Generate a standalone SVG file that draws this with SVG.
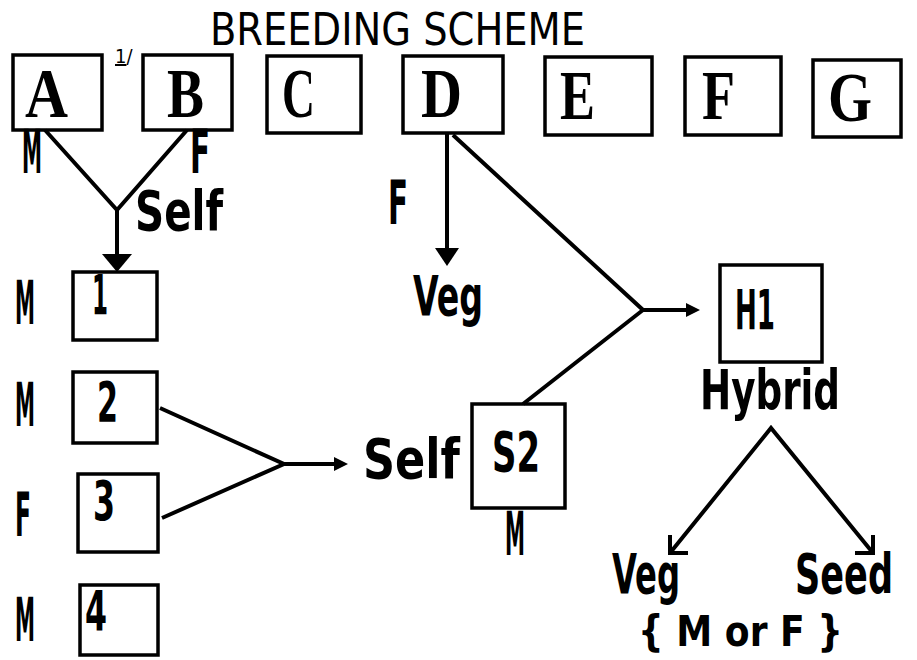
<svg xmlns="http://www.w3.org/2000/svg" width="917" height="660" viewBox="0 0 917 660">
<defs>
<style>
.bx{fill:none;stroke:#000;stroke-width:3.5}
.big{font-family:"Liberation Serif","Times New Roman",serif;font-weight:bold;font-size:70px;fill:#000}
.t{font-family:"DejaVu Sans Condensed","DejaVu Sans","Liberation Sans",sans-serif;font-weight:bold;font-size:56px;fill:#000}
.m{font-size:60px}
.ln{fill:none;stroke:#000;stroke-width:4;stroke-linejoin:miter}
.ah{fill:#000;stroke:none}
</style>
</defs>
<rect width="917" height="660" fill="#fff"/>
<text class="t" x="210" y="45" style="font-size:45px;font-weight:normal" textLength="375" lengthAdjust="spacingAndGlyphs">BREEDING SCHEME</text>
<text class="t" x="115" y="63" style="font-size:20px;font-weight:normal"><tspan text-decoration="underline">1</tspan>/</text>

<g id="A"><rect class="bx" x="13" y="55" width="89" height="75"/><text class="big" x="25" y="117" textLength="43" lengthAdjust="spacingAndGlyphs">A</text><text class="t m" x="22" y="173" textLength="20" lengthAdjust="spacingAndGlyphs">M</text></g>
<g id="B"><rect class="bx" x="143" y="55" width="89" height="75"/><text class="big" x="167" y="117" textLength="37" lengthAdjust="spacingAndGlyphs">B</text><text class="t m" x="190" y="173" textLength="20" lengthAdjust="spacingAndGlyphs">F</text></g>
<g id="C"><rect class="bx" x="267" y="56" width="94" height="77"/><text class="big" x="282" y="117" textLength="33" lengthAdjust="spacingAndGlyphs">C</text></g>
<g id="D"><rect class="bx" x="403" y="56" width="100" height="77"/><text class="big" x="421" y="117" textLength="41" lengthAdjust="spacingAndGlyphs">D</text></g>
<g id="E"><rect class="bx" x="545" y="57" width="107" height="78"/><text class="big" x="560" y="119" textLength="35" lengthAdjust="spacingAndGlyphs">E</text></g>
<g id="F"><rect class="bx" x="685" y="57" width="96" height="78"/><text class="big" x="702" y="119" textLength="33" lengthAdjust="spacingAndGlyphs">F</text></g>
<g id="G"><rect class="bx" x="813" y="60" width="88" height="77"/><text class="big" x="828" y="121" textLength="44" lengthAdjust="spacingAndGlyphs">G</text></g>

<g id="n1"><rect class="bx" x="73" y="272" width="84" height="68"/><text class="t" x="92" y="314" textLength="16" lengthAdjust="spacingAndGlyphs">1</text><text class="t m" x="15" y="324" textLength="20" lengthAdjust="spacingAndGlyphs">M</text></g>
<g id="n2"><rect class="bx" x="73" y="372" width="84" height="71"/><text class="t" x="97" y="421" textLength="21" lengthAdjust="spacingAndGlyphs">2</text><text class="t m" x="15" y="426" textLength="20" lengthAdjust="spacingAndGlyphs">M</text></g>
<g id="n3"><rect class="bx" x="78" y="474" width="80" height="78"/><text class="t" x="93" y="520" textLength="22" lengthAdjust="spacingAndGlyphs">3</text><text class="t m" x="15" y="536" textLength="16" lengthAdjust="spacingAndGlyphs">F</text></g>
<g id="n4"><rect class="bx" x="80" y="585" width="78" height="70"/><text class="t" x="85" y="630" textLength="22" lengthAdjust="spacingAndGlyphs">4</text><text class="t m" x="15" y="641" textLength="20" lengthAdjust="spacingAndGlyphs">M</text></g>

<g id="S2"><rect class="bx" x="472" y="404" width="93" height="104"/><text class="t" x="492" y="471" textLength="48" lengthAdjust="spacingAndGlyphs">S2</text><text class="t m" x="505" y="555" textLength="20" lengthAdjust="spacingAndGlyphs">M</text></g>
<g id="H1"><rect class="bx" x="720" y="265" width="102" height="97"/><text class="t" x="735" y="329" textLength="40" lengthAdjust="spacingAndGlyphs">H1</text><text class="t" x="700" y="409" textLength="140" lengthAdjust="spacingAndGlyphs">Hybrid</text></g>

<g id="labels">
<text class="t" x="135" y="230" textLength="88" lengthAdjust="spacingAndGlyphs">Self</text>
<text class="t m" x="388" y="224" textLength="20" lengthAdjust="spacingAndGlyphs">F</text>
<text class="t" x="413" y="315" textLength="70" lengthAdjust="spacingAndGlyphs">Veg</text>
<text class="t" x="363" y="478" textLength="97" lengthAdjust="spacingAndGlyphs">Self</text>
<text class="t" x="612" y="593" textLength="68" lengthAdjust="spacingAndGlyphs">Veg</text>
<text class="t" x="795" y="593" textLength="98" lengthAdjust="spacingAndGlyphs">Seed</text>
<text class="t" x="638" y="646" style="font-size:42px" textLength="205" lengthAdjust="spacingAndGlyphs">{ M or F }</text>
</g>

<g id="connectors">
<polyline class="ln" points="45,130 117,210 187,130"/>
<line class="ln" x1="117" y1="210" x2="117" y2="258"/>
<polygon class="ah" points="102,254 132,254 117,272"/>
<polyline class="ln" points="160,408 284,464 162,518"/>
<line class="ln" x1="284" y1="464" x2="336" y2="464"/>
<polygon class="ah" points="334,457 348,464 334,471"/>
<line class="ln" x1="447" y1="133" x2="447" y2="252"/>
<polygon class="ah" points="435,248 459,248 447,266"/>
<polyline class="ln" points="453,135 643,310 523,404"/>
<line class="ln" x1="643" y1="310" x2="688" y2="310"/>
<polygon class="ah" points="686,303 700,310 686,317"/>
<polyline class="ln" points="670,553 771,428 873,553"/>
<polyline class="ln" points="670,535 670,553 688,553"/>
<polyline class="ln" points="873,535 873,553 855,553"/>
</g>
</svg>
